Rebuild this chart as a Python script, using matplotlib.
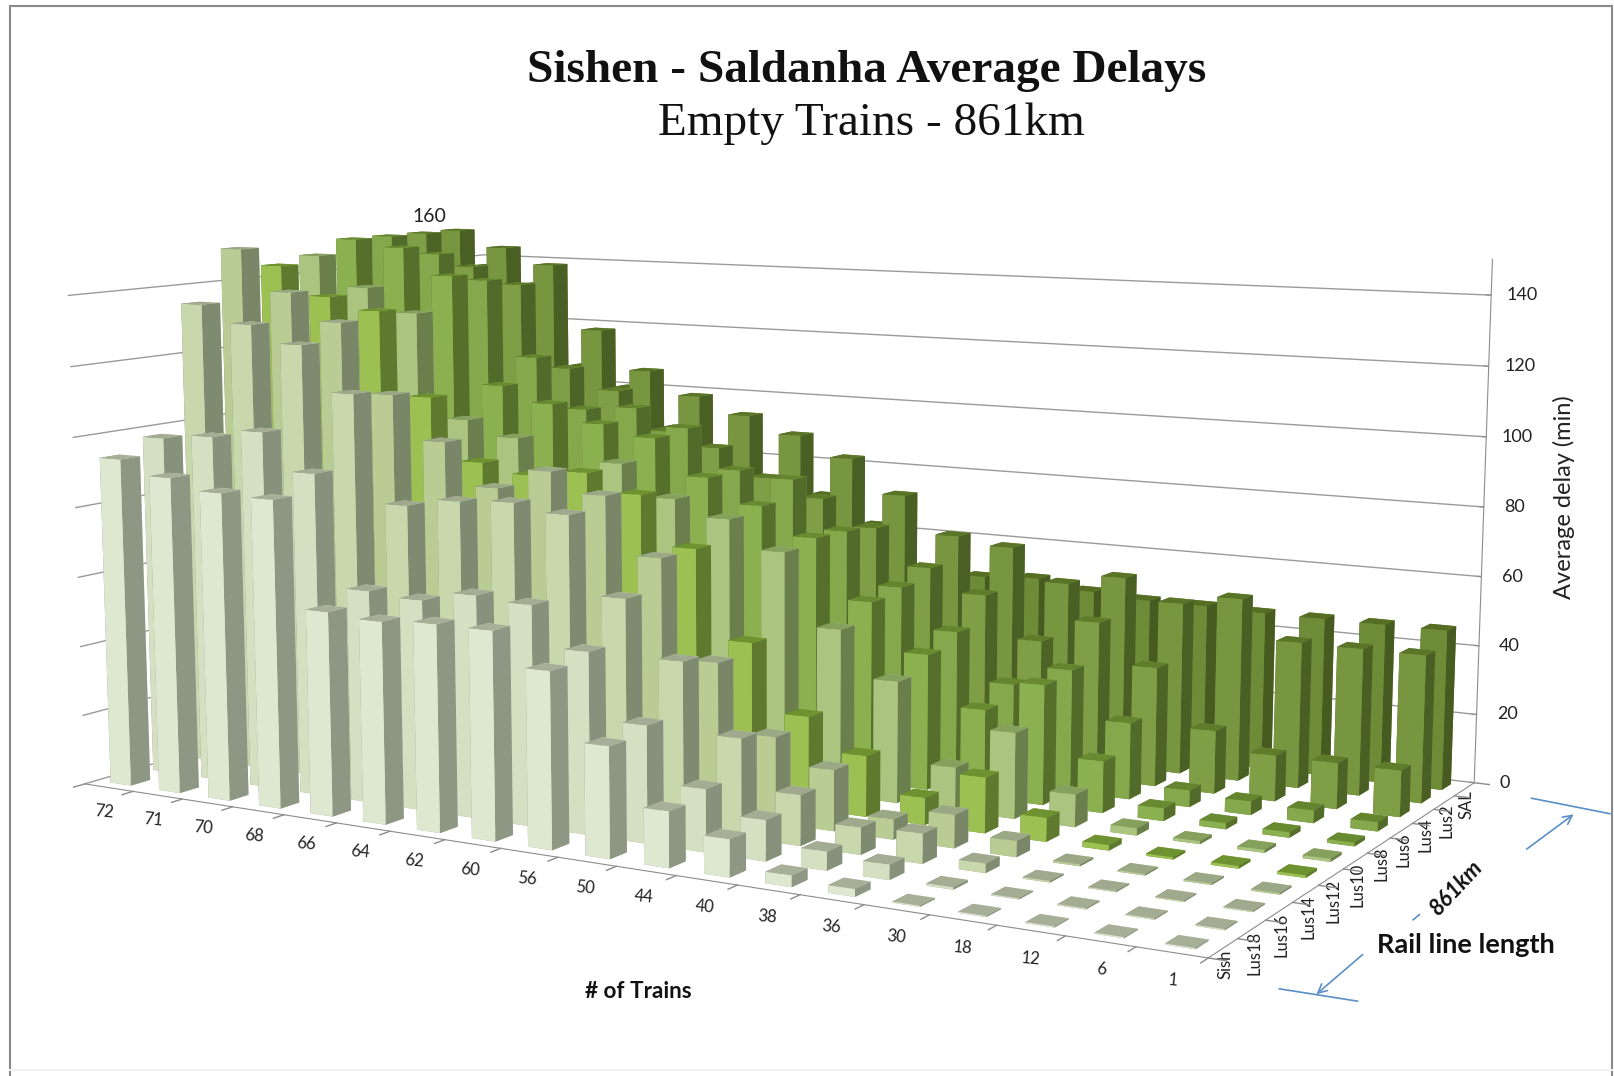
import numpy as np
import matplotlib
matplotlib.use("Agg")
import matplotlib.pyplot as plt
from matplotlib.patches import FancyArrowPatch
from matplotlib.lines import Line2D
from mpl_toolkits.mplot3d import proj3d

W, H = 1615, 1076

# ==== DATA ====
trains = ["72", "71", "70", "68", "66", "64", "62", "60", "56", "50", "44", "40", "38", "36", "30", "18", "12", "6", "1"]
stations = ["Sish", "Lus18", "Lus16", "Lus14", "Lus12", "Lus10", "Lus8", "Lus6", "Lus4", "Lus2", "SAL"]

sish = [94, 90, 87, 86.5, 57, 56, 57, 57, 48, 30, 15, 10, 3, 2, .3, .3, .3, .3, .3]
lus18 = [98, 99.5, 102, 91.5, 60, 59, 62, 61, 50, 32, 17, 11, 5, 4, .6, .3, .3, .3, .3]
lus16 = [135, 130, 125, 112, 81.5, 84, 85, 83, 61.5, 46, 27, 13.8, 7.3, 8, 2.5, .4, .3, .3, .3]
lus14 = [150, 138, 130, 110, 97.5, 85.5, 91.5, 86, 70, 42.5, 23.8, 16.8, 5.5, 9, 4.3, .5, .4, .4, .4]
lus12 = [144, 135.5, 132, 107.5, 89.5, 87, 89, 84, 70, 45, 26, 17, 7.5, 15.3, 6.5, 1.5, .6, .7, .7]
lus10 = [146, 137, 130, 99, 94.7, 81, 89.5, 80.5, 76, 68, 47.5, 34.5, 12.2, 24, 9, 2, .8, .8, .8]
lus8 = [150, 148, 140, 107.5, 103, 98, 95, 84.5, 77.5, 69.5, 52.5, 39, 25, 34, 14.5, 3.5, 1.7, 1.5, 1]
lus6 = [150, 145, 137.5, 114.5, 99.5, 101, 96, 84.5, 83, 69, 54, 42.5, 29, 35, 21.7, 4.7, 3.8, 3.5, 2.5]
lus4 = [150, 140, 135, 109.5, 103.5, 92, 88, 80, 75, 67.5, 57, 50.5, 38.5, 45.7, 34.3, 18, 13, 13, 13]
lus2 = [150, 145, 140, 120, 108, 101, 96, 91, 85, 75, 64, 62, 52.7, 56, 50, 53, 42, 42, 42]
sal = [137.5, 132, 106, 100, 88, 80, 74, 70, 62, 50, 49, 50, 47.6, 46.5, 46.5, 46, 46, 46, 46]
delays = [sish, lus18, lus16, lus14, lus12, lus10, lus8, lus6, lus4, lus2, sal]

z_ticks = [0, 20, 40, 60, 80, 100, 120, 140]

front_cols = ["#DEE8D0", "#D5E0C3", "#C8D7AC", "#B8CC94", "#9CC152", "#ABC480", "#8BB04F", "#86A84C", "#7F9E45", "#789640", "#6E8C38"]
side_cols = ["#8E9784", "#87917B", "#7F8B70", "#798668", "#5F7A2E", "#6B7F4C", "#56702C", "#526A2A", "#4E6426", "#4A5F24", "#475A20"]
top_cols = ["#A8AF98", "#A4AC94", "#A0A98E", "#9AA886", "#6F9230", "#86A05E", "#688A30", "#64842E", "#5F7C2A", "#5A7527", "#566E24"]

nx, ny = len(trains), len(stations)

fig = plt.figure(figsize=(W / 100, H / 100), dpi=100)
ax = fig.add_axes([0, 0, 1, 1], projection="3d")
ax.set_xlim(0, nx)
ax.set_ylim(0, ny)
ax.set_zlim(0, 150)
ax.computed_zorder = False

# camera found by fitting the box corners to the reference
ax.view_init(elev=8.726, azim=-60.032)
ax.set_proj_type("persp", focal_length=0.3926)
ax.set_box_aspect((2.2965, 1.3351, 1))

# place the axes so the box corners land on their pixel positions
pts = np.array([[0, 0, 0], [nx, 0, 0], [nx, ny, 0], [0, ny, 0], [nx, ny, 140], [0, 0, 140], [0, ny, 140]], float)
tgt = np.array([[87, 785], [1207, 958], [1474, 783], [482, 663], [1493, 295], [67, 295], [490, 256]], float)
X, Y, _ = proj3d.proj_transform(pts[:, 0], pts[:, 1], pts[:, 2], ax.get_proj())
X, Y = np.asarray(X), np.asarray(Y)
mx, my = X.mean(), Y.mean()
tx, ty = tgt[:, 0].mean(), tgt[:, 1].mean()
k = (((X - mx) * (tgt[:, 0] - tx)).sum() - ((Y - my) * (tgt[:, 1] - ty)).sum()) / (((X - mx) ** 2).sum() + ((Y - my) ** 2).sum())
cx, cy = tx - k * mx, ty + k * my
xa, xb = ax.viewLim.intervalx
ya, yb = ax.viewLim.intervaly
ax.set_position([(cx + k * xa) / W, 1 - (cy - k * ya) / H, k * (xb - xa) / W, k * (yb - ya) / H])

# ==== BARS ====
bar_w, bar_d = 0.42, 0.45
order = 0
for r in range(ny - 1, -1, -1):
    for c in range(nx):
        cols = [top_cols[r], top_cols[r], front_cols[r], front_cols[r], side_cols[r], side_cols[r]]
        b = ax.bar3d(c + (1 - bar_w) / 2, r + (1 - bar_d) / 2, 0, bar_w, bar_d, delays[r][c], color=cols, shade=False, linewidth=0)
        b.set_zorder(10 + order)
        order += 1

# ==== AXES ====
for axis in (ax.xaxis, ax.yaxis, ax.zaxis):
    axis.set_pane_color((1, 1, 1, 0))
    axis.pane.set_edgecolor("none")
    axis.line.set_color("#8C8C8C")
    axis._axinfo["grid"]["color"] = "#9A9A9A"
    axis._axinfo["grid"]["linewidth"] = 1.0
ax.xaxis._axinfo["grid"]["linewidth"] = 0
ax.yaxis._axinfo["grid"]["linewidth"] = 0
for axis in (ax.xaxis, ax.yaxis):
    axis._axinfo["tick"]["inward_factor"] = 0
    axis._axinfo["tick"]["outward_factor"] = 0
ax.zaxis._axinfo["tick"]["inward_factor"] = 0
ax.zaxis._axinfo["tick"]["outward_factor"] = 0.05

ax.set_xticks(np.arange(nx) + 0.62, trains, fontsize=12, family="Lato", color="#222222")
ax.set_yticks(np.arange(ny) + 0.5, stations, fontsize=12, family="Lato", color="#222222")
ax.set_zticks(z_ticks, [str(v) for v in z_ticks], fontsize=13, family="Lato", color="#222222", va="center")
ax.tick_params(axis="x", labelrotation=-5, pad=4)
ax.tick_params(axis="y", labelrotation=90, pad=-7)
ax.tick_params(axis="z", pad=4, color="#8C8C8C")

for c in range(nx + 1):
    ax.plot([c, c], [0, -0.25], [0, 0], color="#8C8C8C", lw=1)
for r in range(ny + 1):
    ax.plot([nx, nx + 0.25], [r, r], [0, 0], color="#8C8C8C", lw=1)


def fx(x):
    return x * 1.03 / W


def fy(y):
    return 1 - y * 1.03 / H


# ==== TEXT AND ANNOTATIONS ====
fig.text(fx(841), fy(69), "Sishen - Saldanha Average Delays", ha="center", va="center", fontsize=34, fontweight="bold", family="Liberation Serif", color="#111111")
fig.text(fx(846), fy(120), "Empty Trains - 861km", ha="center", va="center", fontsize=34, family="Liberation Serif", color="#111111")
fig.text(fx(417), fy(210), "160", ha="center", va="center", fontsize=14, family="Lato", color="#222222")
fig.text(fx(620), fy(963), "# of Trains", ha="center", va="center", fontsize=16.2, fontweight="bold", family="Lato", color="#111111")
fig.text(fx(1518), fy(483), "Average delay (min)", ha="center", va="center", rotation=90, fontsize=17, family="Lato", color="#222222")
fig.text(fx(1423), fy(917), "Rail line length", ha="center", va="center", fontsize=19.5, fontweight="bold", family="Lato", color="#111111")
fig.text(fx(1414), fy(862), "861km", ha="center", va="center", rotation=47, fontsize=16, fontweight="bold", style="italic", family="Lato", color="#111111")

blue = "#5B8FC7"
for (x0, y0, x1, y1) in [(1487, 775, 1563, 790), (1242, 960, 1318, 972), (1372, 893, 1378, 888)]:
    fig.add_artist(Line2D([fx(x0), fx(x1)], [fy(y0), fy(y1)], color=blue, lw=1.2))
for (x0, y0, x1, y1) in [(1480, 826, 1530, 789), (1325, 925, 1276, 967)]:
    fig.add_artist(FancyArrowPatch((fx(x0), fy(y0)), (fx(x1), fy(y1)), transform=fig.transFigure, arrowstyle="->", mutation_scale=16, color=blue, lw=1.2))

# frame round the picture
for (x0, y0, x1, y1) in [(10, 1046, 10, 6), (10, 6, 1565, 6), (1565, 6, 1565, 1046)]:
    fig.add_artist(Line2D([fx(x0), fx(x1)], [fy(y0), fy(y1)], color="#8A8A8A", lw=1.5))
fig.add_artist(Line2D([fx(10), fx(1565)], [fy(1039), fy(1039)], color="#F0F0F0", lw=1.5))

fig.savefig("out.png", dpi=100)
